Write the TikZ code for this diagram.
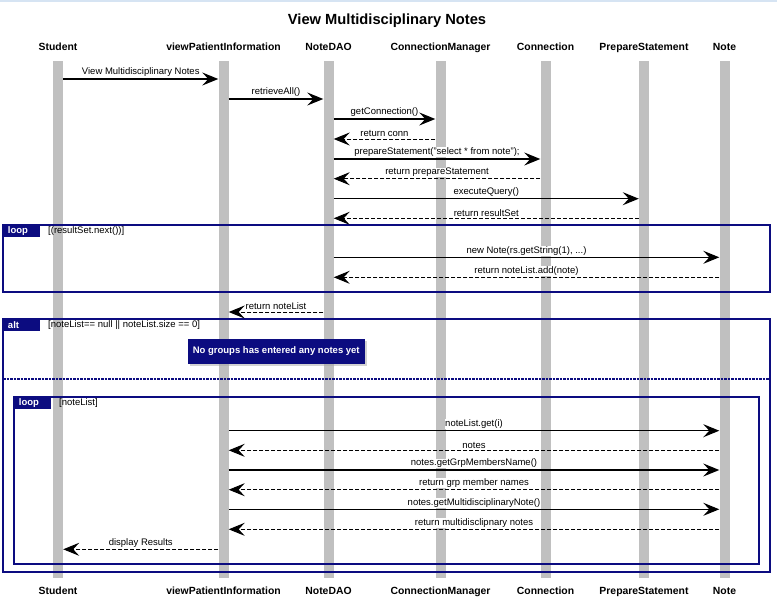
\documentclass[tikz,border=0pt]{standalone}
\usepackage{fontspec}
\setmainfont{Liberation Sans}
\usetikzlibrary {positioning}
\usetikzlibrary {arrows.meta}
\usetikzlibrary {shadows}
\definecolor{framenavy}{RGB}{12,12,128}
\definecolor{bargray}{RGB}{192,192,192}
\definecolor{topblue}{RGB}{214,228,243}
\newcommand{\msgfont}{\fontsize{9.5}{11}\selectfont}
\tikzset{
lifebar/.style={rectangle,minimum height=517pt,minimum width=10pt,inner sep=0pt,fill=bargray}
}
\tikzset{
head/.style={font=\fontsize{10.4}{12}\selectfont\bfseries,inner sep=0pt,anchor=base}
}
\tikzset{
call/.style={line width=1.3pt,-{Stealth[length=16pt,width=13pt,inset=6pt]}},
ret/.style={line width=1pt,dash pattern=on 4pt off 2pt,-{Stealth[length=16pt,width=13pt,inset=6pt]}}
}
\tikzset{
frameF/.style={rectangle,draw=framenavy,line width=2pt,inner sep=0pt,outer sep=0pt,anchor=north west}
}

\begin{document}
\begin{tikzpicture}[x=1pt,y=-1pt,lbl/.style={font=\msgfont,fill=white,inner sep=0.5pt,above=1pt,midway},tab/.style={anchor=north west,fill=framenavy,text=white,font=\msgfont\bfseries,minimum height=12pt,text width=27pt,inner xsep=5pt,inner ysep=0pt,outer sep=0pt,align=left},guard/.style={font=\msgfont,inner sep=0pt}]
\useasboundingbox (0,0) rectangle (777,603);
\fill[topblue] (0,0) rectangle (777,1.5);
\node[font=\fontsize{14.7}{17}\selectfont\bfseries,anchor=base] (title) at (387,24) {View Multidisciplinary Notes};

\foreach \n/\x/\txt in {stu/58/Student,vpi/223.5/viewPatientInformation,dao/328.5/NoteDAO,cm/440.5/ConnectionManager,con/545.5/Connection,ps/644/PrepareStatement,note/724.5/Note}
{
\node[lifebar] (b\n) at (\x,319.5) {};
\node[head] (t\n) at (\x,50.7) {\txt};
\node[head] (f\n) at (\x,594) {\txt};
}
%------------------------------------------------------------------------------------------------------------%
\node[frameF,minimum width=767pt,minimum height=67pt] (loopA) at (3,225) {};
\node[tab] (tagA) at (loopA.north west) {loop};
\node[guard,right=8pt of tagA] (condA) {[(resultSet.next())]};

\node[frameF,minimum width=767pt,minimum height=253pt] (altB) at (3,319) {};
\node[tab] (tagB) at (altB.north west) {alt};
\node[guard,right=8pt of tagB] (condB) {[noteList== null || noteList.size == 0]};
\coordinate (sep) at (0,379);
\draw[framenavy,line width=1.5pt,dash pattern=on 2.5pt off 1pt] (altB.west |- sep) -- (altB.east |- sep);

\node[frameF,minimum width=745pt,minimum height=167pt] (loopC) at (14,397) {};
\node[tab] (tagC) at (loopC.north west) {loop};
\node[guard,right=8pt of tagC] (condC) {[noteList]};

\node[fill=framenavy,text=white,font=\msgfont\bfseries,minimum width=177.5pt,minimum height=25pt,drop shadow={shadow xshift=2pt,shadow yshift=-2pt,fill=black!35}] (empty) at (276.25,351.5) {No groups has entered any notes yet};
%------------------------------------------------------------------------------------------------------------%
\foreach \src/\dst/\yy/\txt in {stu/vpi/79/{View Multidisciplinary Notes},vpi/dao/99/{retrieveAll()},dao/cm/119/{getConnection()},dao/con/159/{prepareStatement("select * from note");},dao/ps/198.7/{executeQuery()},dao/note/257.3/{new Note(rs.getString(1), ...)},vpi/note/430.7/{noteList.get(i)},vpi/note/470/{notes.getGrpMembersName()},vpi/note/509.3/{notes.getMultidisciplinaryNote()}}
{
\coordinate (row) at (0,\yy);
\draw[call] (b\src.east |- row) -- node[lbl] {\txt} (b\dst.west |- row);
}
\foreach \src/\dst/\yy/\txt in {cm/dao/139/{return conn},con/dao/178.7/{return prepareStatement},ps/dao/218.3/{return resultSet},note/dao/277.3/{return noteList.add(note)},dao/vpi/312/{return noteList},note/vpi/450.3/{notes},note/vpi/489.7/{return grp member names},note/vpi/529.3/{return multidisclipnary notes},vpi/stu/549.3/{display Results}}
{
\coordinate (row) at (0,\yy);
\draw[ret] (b\src.west |- row) -- node[lbl] {\txt} (b\dst.east |- row);
}

\end{tikzpicture}
\end{document}
